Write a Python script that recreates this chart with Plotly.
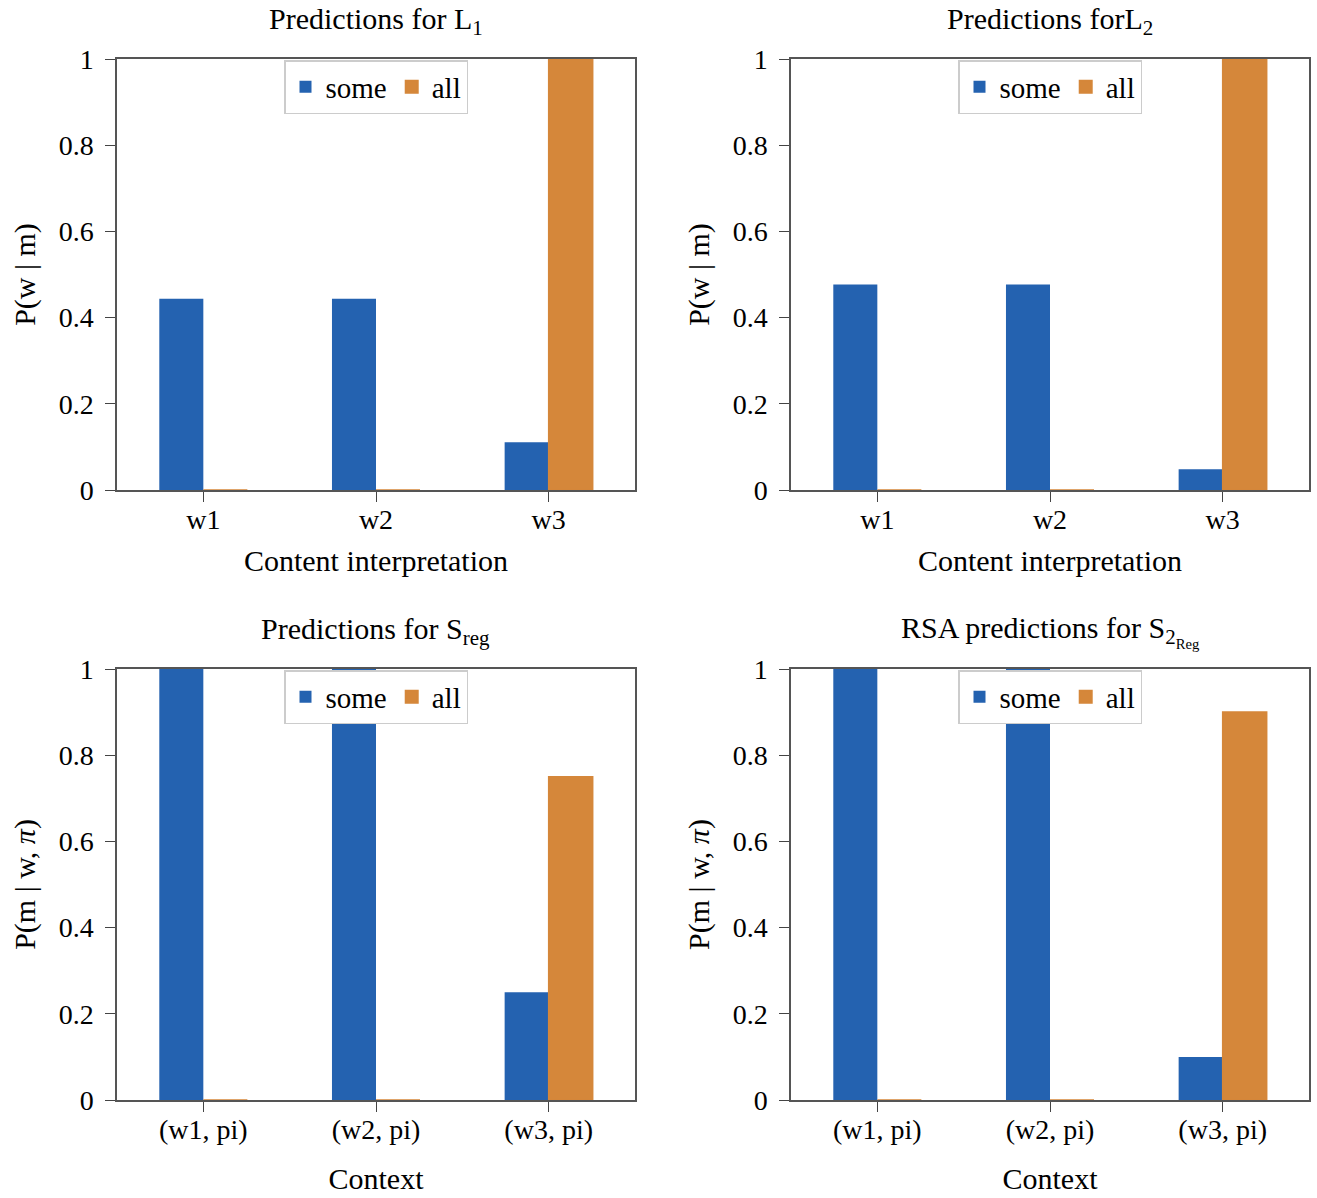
import plotly.graph_objects as go

W, H = 1317, 1198

categories_top = ["w1", "w2", "w3"]
categories_bottom = ["(w1, pi)", "(w2, pi)", "(w3, pi)"]

l1_some = [0.444, 0.444, 0.111]
l1_all = [0.0, 0.0, 1.0]
l2_some = [0.477, 0.477, 0.048]
l2_all = [0.0, 0.0, 1.0]
sreg_some = [1.0, 1.0, 0.25]
sreg_all = [0.0, 0.0, 0.75]
s2reg_some = [1.0, 1.0, 0.1]
s2reg_all = [0.0, 0.0, 0.9]

titles = [
    "Predictions for L<sub>1</sub>",
    "Predictions forL<sub>2</sub>",
    "Predictions for S<sub>reg</sub>",
    "RSA predictions for S<sub>2<sub>Reg</sub></sub>",
]
y_titles = ["P(w | m)", "P(w | m)", "P(m | w, <i>π</i>)", "P(m | w, <i>π</i>)"]
x_titles = ["Content interpretation", "Content interpretation", "Context", "Context"]
y_ticks = [0, 0.2, 0.4, 0.6, 0.8, 1]
y_ticktext = ["0", "0.2", "0.4", "0.6", "0.8", "1"]

BLUE = "#2462b0"
ORANGE = "#d5873a"
FONT = "Liberation Serif"
FS_T = 30   # titles / axis titles
FS_K = 28   # tick labels
FS_L = 29   # legend

# plot area pixel boxes (x0, x1, ytop, ybottom)
boxes = [
    (117, 635, 59, 490),
    (791, 1309, 59, 490),
    (117, 635, 669, 1100),
    (791, 1309, 669, 1100),
]

panels = [
    (categories_top, l1_some, l1_all),
    (categories_top, l2_some, l2_all),
    (categories_bottom, sreg_some, sreg_all),
    (categories_bottom, s2reg_some, s2reg_all),
]

x_standoffs = [16, 16, 24, 24]

fig = go.Figure()
layout = dict(
    width=W, height=H,
    margin=dict(l=0, r=0, t=0, b=0),
    paper_bgcolor="white", plot_bgcolor="white",
    barmode="group", bargap=0.49, bargroupgap=0,
    font=dict(family=FONT, size=FS_K, color="black"),
    annotations=[],
)

for i, ((cats, some, all_), box, tt, yt, xt) in enumerate(zip(panels, boxes, titles, y_titles, x_titles)):
    n = i + 1
    xa = "x" if n == 1 else f"x{n}"
    ya = "y" if n == 1 else f"y{n}"
    lg = "legend" if n == 1 else f"legend{n}"
    x0, x1, yt0, yb0 = box
    xd = [x0 / W, x1 / W]
    yd = [1 - yb0 / H, 1 - yt0 / H]
    fig.add_trace(go.Bar(x=cats, y=some, name="some", marker=dict(color=BLUE, line=dict(width=0)),
                         xaxis=xa, yaxis=ya, legend=lg, offsetgroup="a"))
    fig.add_trace(go.Bar(x=cats, y=all_, name="all", marker=dict(color=ORANGE, line=dict(width=1.5, color=ORANGE)),
                         xaxis=xa, yaxis=ya, legend=lg, offsetgroup="b"))
    xkey = "xaxis" if n == 1 else f"xaxis{n}"
    ykey = "yaxis" if n == 1 else f"yaxis{n}"
    layout[xkey] = dict(
        domain=xd, anchor=ya, type="category", range=[-0.5, 2.5],
        showline=True, linecolor="#555", linewidth=1.5, mirror=True,
        ticks="outside", ticklen=10, tickcolor="#444", tickwidth=1.3,
        showgrid=False, zeroline=False,
        tickfont=dict(size=FS_K, family=FONT),
        ticklabelstandoff=-6,
        title=dict(text=xt, font=dict(size=FS_T, family=FONT), standoff=x_standoffs[i]),
        automargin=False,
    )
    layout[ykey] = dict(
        domain=yd, anchor=xa, range=[0, 1],
        tickvals=y_ticks, ticktext=y_ticktext,
        showline=True, linecolor="#555", linewidth=1.5, mirror=True,
        ticks="outside", ticklen=10, tickcolor="#444", tickwidth=1.3,
        showgrid=False, zeroline=False,
        tickfont=dict(size=FS_K, family=FONT),
        ticklabelstandoff=6,
        title=dict(text=yt, font=dict(size=FS_T, family=FONT), standoff=14),
        automargin=False,
    )
    layout[lg] = dict(
        x=(xd[0] + xd[1]) / 2, xanchor="center",
        y=yd[1] - 1 / H, yanchor="top",
        orientation="h", bgcolor="white", bordercolor="#cccccc", borderwidth=1.5,
        font=dict(size=FS_L, family=FONT), itemwidth=30, tracegroupgap=0,
        itemsizing="constant",
    )
    layout["annotations"].append(dict(
        text=tt, x=(xd[0] + xd[1]) / 2, xref="paper", xanchor="center",
        y=1 - (yt0 - 38) / H, yref="paper", yanchor="middle",
        showarrow=False, font=dict(size=FS_T, family=FONT),
    ))

fig.update_layout(**layout)
fig.write_html("out.html")
